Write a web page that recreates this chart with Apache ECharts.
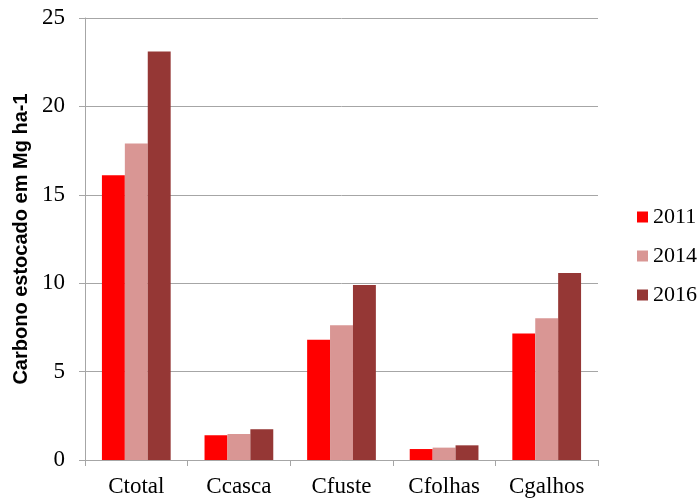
<!DOCTYPE html>
<html>
<head>
<meta charset="utf-8">
<script src="https://cdn.jsdelivr.net/npm/echarts@6/dist/echarts.min.js"></script>
<style>
  html, body { margin: 0; padding: 0; background: #fff; }
  #chart { width: 698px; height: 502px; }
</style>
</head>
<body>
<div id="chart"></div>
<script>
const categories = ['Ctotal', 'Ccasca', 'Cfuste', 'Cfolhas', 'Cgalhos']
const years = ['2011', '2014', '2016']
const values2011 = [16.1, 1.4, 6.8, 0.62, 7.15]
const values2014 = [17.9, 1.47, 7.62, 0.7, 8.02]
const values2016 = [23.1, 1.74, 9.9, 0.83, 10.57]
const colors = ['#ff0000', '#d99694', '#953735']

const serif = '"Liberation Serif", "Times New Roman", serif'

const chart = echarts.init(document.getElementById('chart'))

// séries
const seriesData = [values2011, values2014, values2016]
const series = years.map((y, i) => ({
  name: y,
  type: 'bar',
  data: seriesData[i],
  barGap: '0%',
  barCategoryGap: '33%',
  itemStyle: { color: colors[i] }
}))

chart.setOption({
  animation: false,
  color: colors,
  grid: { left: 85, right: 100, top: 18, bottom: 42, outerBoundsMode: 'none' },
  legend: {
    orient: 'vertical',
    left: 632,
    top: 201,
    itemWidth: 11,
    itemHeight: 11,
    itemGap: 17,
    icon: 'rect',
    textStyle: { fontFamily: serif, fontSize: 22, color: '#000' },
    data: years
  },
  xAxis: {
    type: 'category',
    data: categories,
    axisLine: { lineStyle: { color: '#a6a6a6' } },
    axisTick: { show: true, length: 6, lineStyle: { color: '#a6a6a6' } },
    axisLabel: { fontFamily: serif, fontSize: 23, color: '#000', margin: 15 }
  },
  yAxis: {
    type: 'value',
    min: 0,
    max: 25,
    interval: 5,
    name: 'Carbono estocado em Mg ha-1',
    nameLocation: 'middle',
    nameGap: 53,
    nameTextStyle: { fontFamily: '"Liberation Sans", Arial, sans-serif', fontWeight: 'bold', fontSize: 20, color: '#000' },
    axisLine: { show: true, lineStyle: { color: '#a6a6a6' } },
    axisTick: { show: true, length: 6, lineStyle: { color: '#a6a6a6' } },
    axisLabel: { fontFamily: serif, fontSize: 23, color: '#000', margin: 20 },
    splitLine: { lineStyle: { color: '#a6a6a6' } }
  },
  series
})
</script>
</body>
</html>
